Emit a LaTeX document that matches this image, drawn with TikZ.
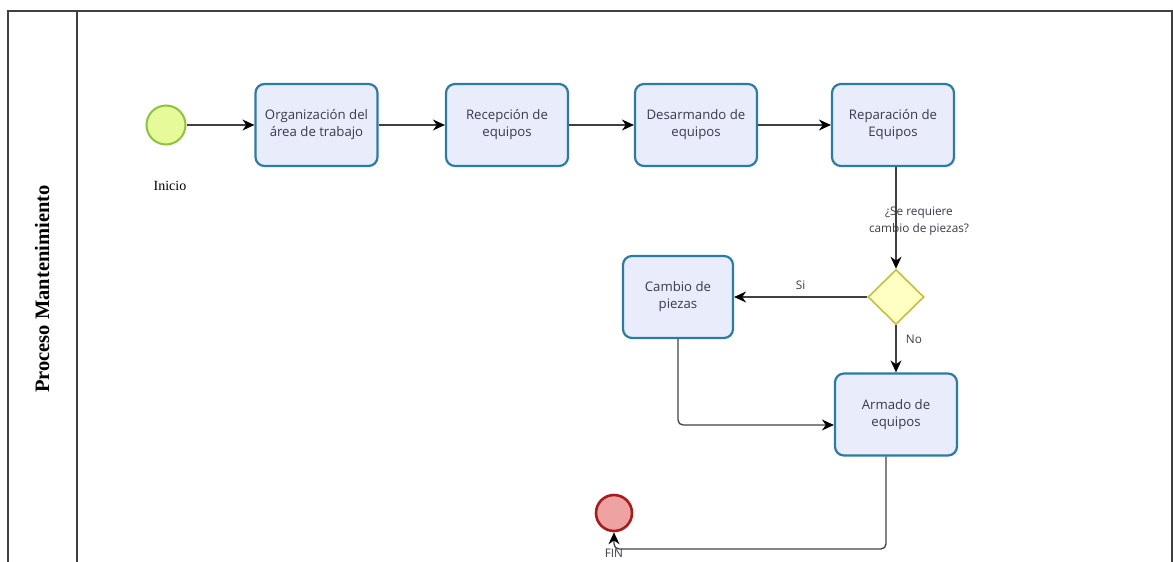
\documentclass[tikz,border=0pt]{standalone}
\usepackage{fontspec}
\setmainfont{Liberation Serif}
\setsansfont{Open Sans}
\usetikzlibrary{shapes.geometric,arrows.meta}
\definecolor{taskfill}{HTML}{E8ECFB}
\definecolor{taskdraw}{HTML}{2A7CA6}
\definecolor{txt}{HTML}{3A3A4C}
\definecolor{startfill}{HTML}{E6FA9A}
\definecolor{startdraw}{HTML}{8CC43C}
\definecolor{endfill}{HTML}{EEA2A2}
\definecolor{enddraw}{HTML}{A81C1C}
\definecolor{gwfill}{HTML}{FFFFC4}
\definecolor{gwdraw}{HTML}{C2C23A}
\definecolor{lnc}{HTML}{404040}
\tikzset{
  task/.style={draw=taskdraw, fill=taskfill, line width=2.2pt, rounded corners=9pt,
    minimum width=122pt, minimum height=82pt, align=center, text=txt,
    font=\sffamily\fontsize{13.2}{17}\selectfont, inner sep=2pt},
  startev/.style={circle, draw=startdraw, fill=startfill, line width=2pt, minimum size=39pt, inner sep=0pt},
  endev/.style={circle, draw=enddraw, fill=endfill, line width=2.6pt, minimum size=36pt, inner sep=0pt},
  gateway/.style={diamond, draw=gwdraw, fill=gwfill, line width=1.6pt, minimum width=56pt, minimum height=55pt, inner sep=0pt},
  flow/.style={draw=lnc, line width=1.3pt, -{Stealth[length=12pt,width=11pt,color=black]}, rounded corners=5pt},
  lbl/.style={text=txt, font=\sffamily\fontsize{11.8}{17}\selectfont, align=center},
  evlbl/.style={text=black, font=\fontsize{14}{16}\selectfont}
}
\begin{document}
\begin{tikzpicture}[x=1pt,y=-1pt]
\useasboundingbox (0,0) rectangle (1173,562);
% pool frame
\draw[line width=1.2pt, draw=black!75] (8,570) -- (8,11) -- (1172,11) -- (1172,570);
\draw[line width=1.2pt, draw=black!75] (77,11) -- (77,570);
\node[rotate=90, font=\bfseries\fontsize{20.5}{24}\selectfont] (pool) at (42,289) {Proceso Mantenimiento};
% nodes
\node[startev] (start) at (166,125) {};
\node[evlbl] (startlbl) at (170,186) {Inicio};
\node[task] (t1) at (316.5,125) {Organización del\\área de trabajo};
\node[task] (t2) at (507,125) {Recepción de\\equipos};
\node[task] (t3) at (696,125) {Desarmando de\\equipos};
\node[task] (t4) at (893,125) {Reparación de\\Equipos};
\node[gateway] (gw) at (896,297) {};
\node[task, minimum width=110pt] (t5) at (678,297) {Cambio de\\piezas};
\node[task] (t6) at (896,414.5) {Armado de\\equipos};
\node[endev] (fin) at (614,513) {};
\node[lbl] (finlbl) at (614,553) {FIN};
% flows
\draw[flow] (start) -- (t1);
\draw[flow] (t1) -- (t2);
\draw[flow] (t2) -- (t3);
\draw[flow] (t3) -- (t4);
\draw[flow] (t4.south -| gw.north) -- (gw.north);
\node[lbl] (qlbl) at (919,221) {¿Se requiere\\cambio de piezas?};
\draw[flow] (gw.west) -- (t5.east) node[lbl, midway, above=3pt] (si) {Si};
\draw[flow] (gw.south) -- (t6.north) node[lbl, pos=0.3, right=6pt] (no) {No};
\draw[flow] (t5.south) |- (t6.west |- 0,425);
\draw[flow] (t6.south -| 886,0) -- (886,549) -| (fin.south);
\end{tikzpicture}
\end{document}
